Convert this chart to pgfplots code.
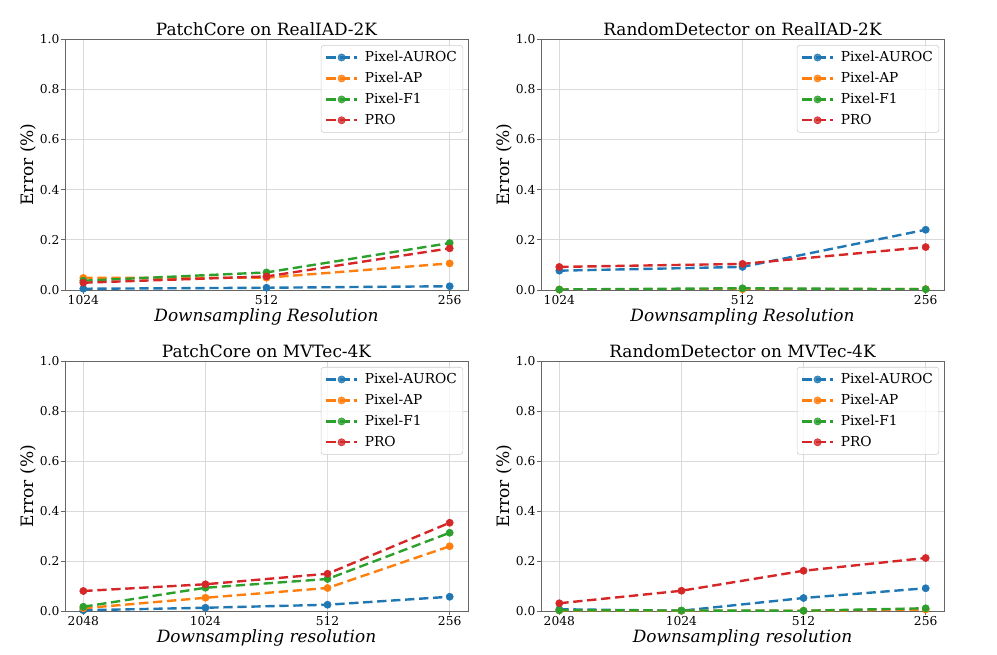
\documentclass[border=0pt]{standalone}
\usepackage{pgfplots}
\pgfplotsset{compat=1.18}
\usepackage{pgfplotstable}
\usepackage{fontspec}
\setmainfont{DejaVu Serif}

\definecolor{c0}{HTML}{1F77B4}
\definecolor{c1}{HTML}{FF7F0E}
\definecolor{c2}{HTML}{2CA02C}
\definecolor{c3}{HTML}{D62728}

% PatchCore on RealIAD-2K
\pgfplotstableread{
x auroc ap f1 pro
0 0.005 0.048 0.037 0.029
1 0.009 0.049 0.070 0.054
2 0.015 0.106 0.187 0.166
}\pcreal
% RandomDetector on RealIAD-2K
\pgfplotstableread{
x auroc ap f1 pro
0 0.077 0.002 0.002 0.092
1 0.092 0.003 0.007 0.104
2 0.240 0.004 0.003 0.171
}\rdreal
% PatchCore on MVTec-4K
\pgfplotstableread{
x auroc ap f1 pro
0 0.003 0.011 0.017 0.080
1 0.013 0.053 0.093 0.107
2 0.025 0.092 0.128 0.149
3 0.057 0.259 0.313 0.353
}\pcmvtec
% RandomDetector on MVTec-4K
\pgfplotstableread{
x auroc ap f1 pro
0 0.007 0.002 0.003 0.031
1 0.001 0.001 0.002 0.081
2 0.052 0.001 0.001 0.161
3 0.091 0.006 0.011 0.212
}\rdmvtec

\pgfplotsset{
  panel/.style={
    scale only axis, width=302.25pt,
    ymin=0, ymax=1, ytick={0,0.2,0.4,0.6,0.8,1},
    grid=major,
    major grid style={draw=black!15, line width=0.6pt},
    axis line style={draw=black!60, line width=0.6pt},
    tick style={draw=black!60, line width=0.6pt},
    tick align=outside, xtick pos=bottom, ytick pos=left,
    major tick length=3pt,
    tick label style={font=\fontsize{9.2}{11}\selectfont},
    x tick label style={inner sep=0.5pt},
    y tick label style={inner sep=1pt, /pgf/number format/.cd, fixed, fixed zerofill, precision=1, assume math mode=true, /tikz/.cd},
    every axis title/.style={at={(axis description cs:0.5,1)}, anchor=base, yshift=2.25pt, font=\fontsize{12.7}{15}\selectfont},
    ylabel={Error (\%)},
    ylabel style={at={(axis description cs:-0.072,0.5)}, anchor=south, inner sep=0pt, font=\fontsize{12.8}{15}\selectfont},
    xlabel style={at={(axis description cs:0.5,-0.072)}, anchor=north, inner sep=0pt, font=\fontsize{12.7}{15}\itshape\selectfont},
    legend style={at={(0.988,0.976)}, anchor=north east, draw=black!20, rounded corners=2pt,
      fill=white, fill opacity=0.8, text opacity=1, font=\fontsize{10.3}{12}\selectfont,
      row sep=2.4pt, inner xsep=2.5pt, inner ysep=2.5pt},
    legend cell align=left,
    legend image code/.code={
      \path (-0.5pt,0pt) (26pt,0pt);
      \draw[mark repeat=2, mark phase=2] plot coordinates {(0pt,0pt) (11.5pt,0pt) (23pt,0pt)};},
    every axis plot/.append style={line width=1.8pt, dash pattern=on 7pt off 3.5pt, mark=*, mark size=2.7pt, mark options={solid, line width=0.4pt}},
  },
  top/.style={height=188.25pt, xmin=-0.1, xmax=2.1, xtick={0,1,2}, xticklabels={1024,512,256}, xlabel={Downsampling Resolution}},
  bot/.style={height=187.5pt, xmin=-0.15, xmax=3.15, xtick={0,1,2,3}, xticklabels={2048,1024,512,256}, xlabel={Downsampling resolution}},
}

\begin{document}
\begin{tikzpicture}
\path[use as bounding box] (0,0) rectangle (747.75pt,490.5pt);

\begin{axis}[panel, top, at={(48.75pt,273pt)}, anchor=south west, title={PatchCore on RealIAD-2K}]
  \addplot[c0] table[x=x, y=auroc] {\pcreal};
  \addplot[c1] table[x=x, y=ap] {\pcreal};
  \addplot[c2] table[x=x, y=f1] {\pcreal};
  \addplot[c3] table[x=x, y=pro] {\pcreal};
  \legend{Pixel-AUROC, Pixel-AP, Pixel-F1, PRO}
\end{axis}

\begin{axis}[panel, top, at={(405.75pt,273pt)}, anchor=south west, title={RandomDetector on RealIAD-2K}]
  \addplot[c0] table[x=x, y=auroc] {\rdreal};
  \addplot[c1] table[x=x, y=ap] {\rdreal};
  \addplot[c2] table[x=x, y=f1] {\rdreal};
  \addplot[c3] table[x=x, y=pro] {\rdreal};
  \legend{Pixel-AUROC, Pixel-AP, Pixel-F1, PRO}
\end{axis}

\begin{axis}[panel, bot, at={(48.75pt,32.25pt)}, anchor=south west, title={PatchCore on MVTec-4K}]
  \addplot[c0] table[x=x, y=auroc] {\pcmvtec};
  \addplot[c1] table[x=x, y=ap] {\pcmvtec};
  \addplot[c2] table[x=x, y=f1] {\pcmvtec};
  \addplot[c3] table[x=x, y=pro] {\pcmvtec};
  \legend{Pixel-AUROC, Pixel-AP, Pixel-F1, PRO}
\end{axis}

\begin{axis}[panel, bot, at={(405.75pt,32.25pt)}, anchor=south west, title={RandomDetector on MVTec-4K}]
  \addplot[c0] table[x=x, y=auroc] {\rdmvtec};
  \addplot[c1] table[x=x, y=ap] {\rdmvtec};
  \addplot[c2] table[x=x, y=f1] {\rdmvtec};
  \addplot[c3] table[x=x, y=pro] {\rdmvtec};
  \legend{Pixel-AUROC, Pixel-AP, Pixel-F1, PRO}
\end{axis}
\end{tikzpicture}
\end{document}
